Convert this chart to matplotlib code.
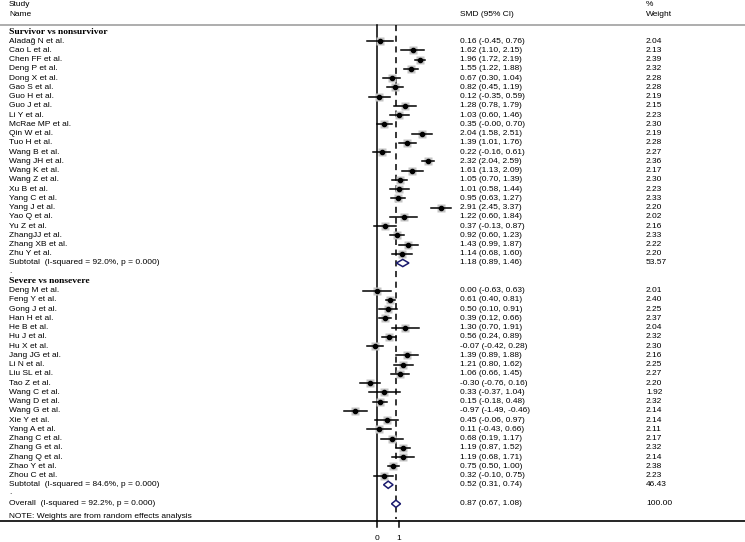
import numpy as np
import matplotlib.pyplot as plt
from matplotlib import transforms

plt.rcParams['font.family'] = ['Liberation Sans', 'DejaVu Sans']

# survivor vs nonsurvivor
names1 = ['Aladağ N et al.', 'Cao L et al.', 'Chen FF et al.', 'Deng P et al.', 'Dong X et al.',
          'Gao S et al.', 'Guo H et al.', 'Guo J et al.', 'Li Y et al.', 'McRae MP et al.',
          'Qin W et al.', 'Tuo H et al.', 'Wang B et al.', 'Wang JH et al.', 'Wang K et al.',
          'Wang Z et al.', 'Xu B et al.', 'Yang C et al.', 'Yang J et al.', 'Yao Q et al.',
          'Yu Z et al.', 'ZhangJJ et al.', 'Zhang XB et al.', 'Zhu Y et al.']
smd1 = [0.16, 1.62, 1.96, 1.55, 0.67, 0.82, 0.12, 1.28, 1.03, 0.35, 2.04, 1.39, 0.22, 2.32,
        1.61, 1.05, 1.01, 0.95, 2.91, 1.22, 0.37, 0.92, 1.43, 1.14]
lo1 = [-0.45, 1.10, 1.72, 1.22, 0.30, 0.45, -0.35, 0.78, 0.60, -0.00, 1.58, 1.01, -0.16, 2.04,
       1.13, 0.70, 0.58, 0.63, 2.45, 0.60, -0.13, 0.60, 0.99, 0.68]
hi1 = [0.76, 2.15, 2.19, 1.88, 1.04, 1.19, 0.59, 1.79, 1.46, 0.70, 2.51, 1.76, 0.61, 2.59,
       2.09, 1.39, 1.44, 1.27, 3.37, 1.84, 0.87, 1.23, 1.87, 1.60]
w1 = [2.04, 2.13, 2.39, 2.32, 2.28, 2.28, 2.19, 2.15, 2.23, 2.30, 2.19, 2.28, 2.27, 2.36,
      2.17, 2.30, 2.23, 2.33, 2.20, 2.02, 2.16, 2.33, 2.22, 2.20]
sub1 = (1.18, 0.89, 1.46, 53.57, 'Subtotal  (I-squared = 92.0%, p = 0.000)')

# severe vs nonsevere
names2 = ['Deng M et al.', 'Feng Y et al.', 'Gong J et al.', 'Han H et al.', 'He B et al.',
          'Hu J et al.', 'Hu X et al.', 'Jang JG et al.', 'Li N et al.', 'Liu SL et al.',
          'Tao Z et al.', 'Wang C et al.', 'Wang D et al.', 'Wang G et al.', 'Xie Y et al.',
          'Yang A et al.', 'Zhang C et al.', 'Zhang G et al.', 'Zhang Q et al.', 'Zhao Y et al.',
          'Zhou C et al.']
smd2 = [0.00, 0.61, 0.50, 0.39, 1.30, 0.56, -0.07, 1.39, 1.21, 1.06, -0.30, 0.33, 0.15, -0.97,
        0.45, 0.11, 0.68, 1.19, 1.19, 0.75, 0.32]
lo2 = [-0.63, 0.40, 0.10, 0.12, 0.70, 0.24, -0.42, 0.89, 0.80, 0.66, -0.76, -0.37, -0.18, -1.49,
       -0.06, -0.43, 0.19, 0.87, 0.68, 0.50, -0.10]
hi2 = [0.63, 0.81, 0.91, 0.66, 1.91, 0.89, 0.28, 1.88, 1.62, 1.45, 0.16, 1.04, 0.48, -0.46,
       0.97, 0.66, 1.17, 1.52, 1.71, 1.00, 0.75]
w2 = [2.01, 2.40, 2.25, 2.37, 2.04, 2.32, 2.30, 2.16, 2.25, 2.27, 2.20, 1.92, 2.32, 2.14,
      2.14, 2.11, 2.17, 2.32, 2.14, 2.38, 2.23]
sub2 = (0.52, 0.31, 0.74, 46.43, 'Subtotal  (I-squared = 84.6%, p = 0.000)')

overall = (0.87, 0.67, 1.08, 100.00, 'Overall  (I-squared = 92.2%, p = 0.000)')

groups = [('Survivor vs nonsurvivor', names1, smd1, lo1, hi1, w1, sub1),
          ('Severe vs nonsevere', names2, smd2, lo2, hi2, w2, sub2)]

W, H = 745, 542
x0_px, px_per = 376.7, 22.1   # pixel of SMD=0, pixels per unit
row0, step = 32.0, 9.24

fig = plt.figure(figsize=(W / 100, H / 100), dpi=100)
ax = fig.add_axes([0, 0, 1, 1])
ax.set_xlim(-x0_px / px_per, (W - x0_px) / px_per)
ax.set_ylim(H, 0)
ax.axis('off')
tr = transforms.blended_transform_factory(ax.transAxes, ax.transData)

fs = 6.0
xname, xest, xw = 9 / W, 460 / W, 646 / W

def fmt(e, l, h):
    return '%.2f (%.2f, %.2f)' % (e, l, h)

def diamond(y, e, l, h):
    ax.fill([l, e, h, e, l], [y, y - 3.6, y, y + 3.6, y], facecolor='white',
            edgecolor='#1a1a6e', lw=1.1, zorder=5)

# header
ax.text(xname, 5, 'Study', transform=tr, fontsize=fs, va='center')
ax.text(xname, 14, 'Name', transform=tr, fontsize=fs, va='center')
ax.text(xest, 14, 'SMD (95% CI)', transform=tr, fontsize=fs, va='center')
ax.text(xw, 5, '%', transform=tr, fontsize=fs, va='center')
ax.text(xw, 14, 'Weight', transform=tr, fontsize=fs, va='center')
ax.plot([0, 1], [25, 25], transform=tr, color='#a0a0a0', lw=1.2, clip_on=False)

row = 0
for title, names, smd, lo, hi, w, sub in groups:
    y = row0 + row * step
    ax.text(xname, y, title, transform=tr, fontsize=fs + 0.8, va='center',
            family='Liberation Serif', weight='bold')
    row += 1
    for n, e, l, h, wt in zip(names, smd, lo, hi, w):
        y = row0 + row * step
        side = 5.4 * np.sqrt(wt) / 1.389
        ax.plot(e, y, 's', ms=side, color='#c4c4c4', mec='none', zorder=3)
        ax.plot([l, h], [y, y], color='black', lw=1.1, zorder=4)
        ax.plot(e, y, 'o', ms=3.0, color='black', zorder=5)
        ax.text(xname, y, n, transform=tr, fontsize=fs, va='center')
        ax.text(xest, y, fmt(e, l, h), transform=tr, fontsize=fs, va='center')
        ax.text(xw, y, '%.2f' % wt, transform=tr, fontsize=fs, va='center')
        row += 1
    y = row0 + row * step
    e, l, h, wt, lab = sub
    diamond(y, e, l, h)
    ax.text(xname, y, lab, transform=tr, fontsize=fs, va='center')
    ax.text(xest, y, fmt(e, l, h), transform=tr, fontsize=fs, va='center')
    ax.text(xw, y, '%.2f' % wt, transform=tr, fontsize=fs, va='center')
    row += 1
    ax.text(xname, row0 + row * step - 1, '.', transform=tr, fontsize=fs, va='center')
    row += 1

# overall
y = row0 + (row - 1) * step + 9.8
e, l, h, wt, lab = overall
diamond(y, e, l, h)
ax.text(xname, y, lab, transform=tr, fontsize=fs, va='center')
ax.text(xest, y, fmt(e, l, h), transform=tr, fontsize=fs, va='center')
ax.text(xw, y, '%.2f' % wt, transform=tr, fontsize=fs, va='center')
ax.text(xname, 516.5, 'NOTE: Weights are from random effects analysis', transform=tr,
        fontsize=fs, va='center')

# reference lines and axis
ax.plot([0, 0], [25, 527], color='black', lw=1.1, zorder=2)
ax.plot([e, e], [25, 519], color='black', lw=1.1, ls=(0, (4, 3)), zorder=2)
ax.plot([0, 1], [521, 521], transform=tr, color='black', lw=1.2, clip_on=False)
ax.plot([1, 1], [521, 527], color='black', lw=1.1)
ax.text(0, 538, '0', ha='center', va='center', fontsize=fs)
ax.text(1, 538, '1', ha='center', va='center', fontsize=fs)

fig.savefig('out.png', dpi=100)
